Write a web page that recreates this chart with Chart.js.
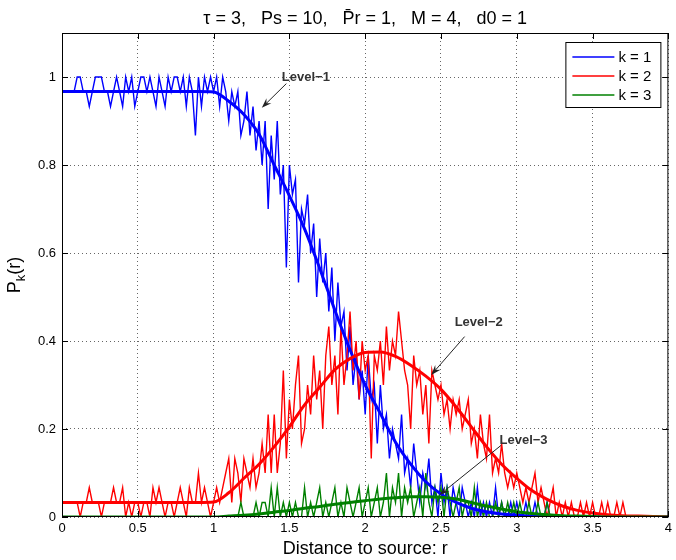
<!DOCTYPE html>
<html><head><meta charset="utf-8">
<script src="https://cdn.jsdelivr.net/npm/chart.js@4.4.0/dist/chart.umd.min.js"></script>
<style>html,body{margin:0;padding:0;background:#fff;}canvas{display:block;}</style>
</head><body>
<canvas id="c" width="676" height="560"></canvas>
<script>
// ---------- text ----------
const chartTitle = 'τ = 3,   Ps = 10,   P\u0304r = 1,   M = 4,   d0 = 1';
const xAxisTitle = 'Distance to source: r';
const yAxisTitleParts = ['P', 'k', '(r)'];
const seriesLabels = ['k = 1', 'k = 2', 'k = 3'];
const seriesColors = ['#0000ff', '#ff0000', '#008000'];

// ---------- ticks ----------
const xTickValues = [0, 0.5, 1, 1.5, 2, 2.5, 3, 3.5, 4];
const xTickLabels = ['0', '0.5', '1', '1.5', '2', '2.5', '3', '3.5', '4'];
const yTickValues = [0, 0.2, 0.4, 0.6, 0.8, 1];
const yTickLabels = ['0', '0.2', '0.4', '0.6', '0.8', '1'];

// ---------- sampling grids (r) ----------
const simStep = 0.02;      // simulation samples r = 0, 0.02, ... 4
const theoryStep = 0.1;    // analytical curve samples r = 0, 0.1, ... 4

// ---------- simulated P_k(r) ----------
const simK1 = [
 .967,.967,.967,.967,.967,1,1,.967,.967,.933,
 .967,1,1,1,.967,.967,.933,.967,1,.967,
 .933,1,.967,1,.933,.967,1,1,.967,1,
 .967,.933,1,.967,.933,1,.967,1,1,.967,
 1,.933,1,.967,.867,1,.933,1,.967,1,
 .967,1,.933,1,.967,.9,.967,.933,.967,.867,
 .9,.967,.867,.933,.833,.9,.8,.9,.7,.867,
 .767,.9,.733,.8,.567,.8,.733,.767,.533,.7,
 .667,.733,.6,.667,.5,.633,.533,.6,.467,.567,
 .4,.533,.433,.467,.333,.433,.3,.367,.267,.333,
 .233,.367,.267,.3,.167,.3,.2,.233,.133,.2,
 .167,.133,.233,.1,.133,.067,.167,.1,.033,.1,
 .067,.133,.033,.067,0,.1,.033,.067,0,.067,
 .033,0,.067,.033,0,.033,0,.067,0,.033,
 0,.033,0,.067,0,.033,0,0,.033,0,
 .033,0,0,.033,0,0,.033,0,0,0,
 .033,0,0,0,0,0,0,0,0,0,
 0,0,0,0,0,0,0,0,0,0,
 0,0,0,0,0,0,0,0,0,0,
 0,0,0,0,0,0,0,0,0,0,
 0
];
const simK2 = [
 .033,.033,.033,.033,.033,.033,0,.033,.033,.067,
 .033,.033,.033,0,.033,.033,.033,.067,.033,.033,
 .067,0,.033,0,.033,.033,0,.033,.033,0,
 .067,.033,.067,.033,0,.033,.033,0,.033,.067,
 .033,0,.067,.033,.033,.1,.033,.067,.033,0,
 .033,.067,.033,.067,.1,.133,.033,.133,.1,.033,
 .133,.1,.067,.133,.067,.1,.167,.1,.233,.1,
 .233,.1,.167,.333,.133,.267,.2,.3,.367,.167,
 .2,.3,.233,.367,.267,.333,.2,.367,.433,.3,
 .367,.233,.433,.3,.367,.467,.333,.4,.267,.4,
 .333,.367,.133,.367,.333,.4,.3,.433,.333,.4,
 .367,.467,.4,.333,.3,.2,.367,.3,.333,.233,
 .3,.167,.333,.3,.267,.3,.233,.267,.2,.267,
 .233,.267,.2,.233,.267,.167,.2,.133,.233,.167,
 .133,.233,.1,.133,.1,.167,.1,.067,.1,.067,
 .1,.067,.033,.067,.033,.067,.1,.033,.067,.033,
 0,.033,.067,0,.033,0,.033,0,.033,0,
 0,.033,0,.033,0,.033,0,0,.033,0,
 .033,0,0,.033,0,.033,0,0,0,0,
 0,0,0,0,0,0,0,0,0,0,
 0
];
const simK3 = [
 0,0,0,0,0,0,0,0,0,0,
 0,0,0,0,0,0,0,0,0,0,
 0,0,0,0,0,0,0,0,0,0,
 0,0,0,0,0,0,0,0,0,0,
 0,0,0,0,0,0,0,0,0,0,
 0,0,0,0,0,0,0,0,0,
 .033,0,0,0,0,.033,0,.033,.033,0,
 .067,0,.067,0,.033,0,.033,0,.033,0,
 0,.067,0,.033,0,.033,.067,0,.033,0,
 .033,.067,0,.033,0,.067,.033,0,.033,.067,
 0,.033,.067,0,.033,.067,0,.033,.1,0,
 .067,.033,.1,0,.067,.033,.067,0,.033,.067,
 0,.1,.033,0,.067,.033,.067,0,.067,.033,
 0,.033,.067,0,.033,.033,0,.067,0,.033,
 0,.033,0,0,.033,0,.033,0,.033,0,
 .033,0,.033,0,0,.033,0,0,.033,0,
 0,.033,0,0,0,0,0,0,0,0,
 0,0,0,0,0,0,0,0,0,0,
 0,0,0,0,0,0,0,0,0,0,
 0,0,0,0,0,0,0,0,0,0,
 0,0
];

// ---------- analytical P_k(r) ----------
const theoryK1 = [
 .967,.967,.967,.967,.967,.967,.967,.967,.967,.967,
 .966,.945,.915,.87,.80,.73,.655,.565,.47,.38,
 .30,.235,.17,.12,.08,.052,.033,.02,.012,.007,
 .004,.002,.001,0,0,0,0,0,0,0,
 0
];
const theoryK2 = [
 .033,.033,.033,.033,.033,.033,.033,.033,.033,.033,
 .034,.055,.088,.12,.16,.205,.255,.295,.335,.36,
 .374,.375,.365,.345,.32,.29,.25,.205,.16,.12,
 .088,.06,.04,.025,.015,.009,.005,.003,.002,.001,
 0
];
const theoryK3 = [
 0,0,0,0,0,0,0,0,0,0,
 0,.002,.004,.007,.011,.015,.02,.024,.029,.033,
 .037,.041,.044,.046,.046,.045,.041,.033,.025,.018,
 .012,.008,.005,.003,.002,.001,0,0,0,0,
 0
];
const baselineR = [0, 4];
const baselineP = [0, 0];

// ---------- annotations (data coordinates) ----------
const annotationTexts = ['Level\u22121', 'Level\u22122', 'Level\u22123'];
const annotationTextAt = [[1.45, 1.0], [2.59, 0.443], [2.886, 0.175]];
const annotationArrowFrom = [[1.48, 0.985], [2.656, 0.41], [2.897, 0.163]];
const annotationArrowTo = [[1.318, 0.93], [2.436, 0.323], [2.49, 0.05]];

// ---------- build ----------
const toPts = (arr, step) => arr.map((v, i) => ({x: +(i * step).toFixed(3), y: v}));
const FONT = "'Liberation Sans', Arial, Helvetica, sans-serif";
const sims = [simK1, simK2, simK3];
const theories = [theoryK1, theoryK2, theoryK3];
const datasets = [];
sims.forEach((s, k) => datasets.push({
  label: seriesLabels[k] + ' (sim)', data: toPts(s, simStep),
  borderColor: seriesColors[k], borderWidth: 1.4, pointRadius: 0, tension: 0
}));
theories.forEach((t, k) => datasets.push({
  label: seriesLabels[k], data: toPts(t, theoryStep),
  borderColor: seriesColors[k], borderWidth: 3, pointRadius: 0, cubicInterpolationMode: 'monotone'
}));
datasets.push({
  label: 'baseline', data: baselineR.map((r, i) => ({x: r, y: baselineP[i]})),
  borderColor: seriesColors[1], borderWidth: 2, pointRadius: 0
});
const N = datasets.length;
datasets.forEach((d, i) => { d.order = N - i; });

const decor = {
  id: 'decor',
  afterDatasetsDraw(chart) {
    const {ctx, chartArea: a, scales: {x, y}} = chart;
    ctx.save();
    // box
    ctx.strokeStyle = '#000'; ctx.lineWidth = 1; ctx.setLineDash([]);
    ctx.strokeRect(a.left + 0.5, a.top + 0.5, a.right - a.left - 1, a.bottom - a.top - 1);
    // inward ticks
    ctx.beginPath();
    xTickValues.forEach(v => {
      const px = Math.round(x.getPixelForValue(v)) + 0.5;
      ctx.moveTo(px, a.bottom); ctx.lineTo(px, a.bottom - 6);
      ctx.moveTo(px, a.top); ctx.lineTo(px, a.top + 6);
    });
    yTickValues.forEach(v => {
      const py = Math.round(y.getPixelForValue(v)) + 0.5;
      ctx.moveTo(a.left, py); ctx.lineTo(a.left + 6, py);
      ctx.moveTo(a.right, py); ctx.lineTo(a.right - 6, py);
    });
    ctx.stroke();
    // annotations
    annotationTexts.forEach((t, i) => {
      const tx = x.getPixelForValue(annotationTextAt[i][0]);
      const ty = y.getPixelForValue(annotationTextAt[i][1]);
      ctx.font = 'bold 13px ' + FONT; ctx.fillStyle = '#333';
      ctx.textAlign = 'left'; ctx.textBaseline = 'middle';
      ctx.fillText(t, tx, ty);
      const x0 = x.getPixelForValue(annotationArrowFrom[i][0]), y0 = y.getPixelForValue(annotationArrowFrom[i][1]);
      const x1 = x.getPixelForValue(annotationArrowTo[i][0]), y1 = y.getPixelForValue(annotationArrowTo[i][1]);
      const ang = Math.atan2(y1 - y0, x1 - x0);
      const L = 10, W = 3.5;
      ctx.strokeStyle = '#222'; ctx.fillStyle = '#222'; ctx.lineWidth = 1;
      ctx.beginPath(); ctx.moveTo(x0, y0);
      ctx.lineTo(x1 - Math.cos(ang) * L * 0.6, y1 - Math.sin(ang) * L * 0.6); ctx.stroke();
      const bx = x1 - Math.cos(ang) * L, by = y1 - Math.sin(ang) * L;
      const nx = -Math.sin(ang), ny = Math.cos(ang);
      const cx = x1 - Math.cos(ang) * L * 0.65, cy = y1 - Math.sin(ang) * L * 0.65;
      ctx.beginPath(); ctx.moveTo(x1, y1);
      ctx.lineTo(bx + nx * W, by + ny * W);
      ctx.lineTo(cx, cy);
      ctx.lineTo(bx - nx * W, by - ny * W);
      ctx.closePath(); ctx.fill();
    });
    // legend
    const lx = a.right - 103, ly = a.top + 9, lw = 95, lh = 65;
    ctx.fillStyle = '#fff'; ctx.fillRect(lx, ly, lw, lh);
    ctx.strokeStyle = '#000'; ctx.lineWidth = 1;
    ctx.strokeRect(lx + 0.5, ly + 0.5, lw, lh);
    seriesLabels.forEach((lab, k) => {
      const yy = ly + 15 + k * 19;
      ctx.strokeStyle = seriesColors[k]; ctx.lineWidth = 1.5;
      ctx.beginPath(); ctx.moveTo(lx + 7, yy); ctx.lineTo(lx + 49, yy); ctx.stroke();
      ctx.fillStyle = '#000'; ctx.font = '15px ' + FONT;
      ctx.textAlign = 'left'; ctx.textBaseline = 'middle';
      ctx.fillText(lab, lx + 53, yy + 1);
    });
    // title
    ctx.fillStyle = '#000'; ctx.textAlign = 'center'; ctx.textBaseline = 'alphabetic';
    ctx.font = '18px ' + FONT;
    ctx.fillText(chartTitle, (a.left + a.right) / 2, 24);
    // x title
    ctx.font = '18px ' + FONT;
    ctx.fillText(xAxisTitle, (a.left + a.right) / 2, 554);
    // y title with subscript
    ctx.save();
    ctx.translate(20, (a.top + a.bottom) / 2);
    ctx.rotate(-Math.PI / 2);
    ctx.font = '18px ' + FONT;
    const w0 = ctx.measureText(yAxisTitleParts[0]).width;
    const w2 = ctx.measureText(yAxisTitleParts[2]).width;
    ctx.font = '13px ' + FONT;
    const w1 = ctx.measureText(yAxisTitleParts[1]).width;
    let sx = -(w0 + w1 + w2) / 2;
    ctx.textAlign = 'left';
    ctx.font = '18px ' + FONT; ctx.fillText(yAxisTitleParts[0], sx, 0); sx += w0;
    ctx.font = '13px ' + FONT; ctx.fillText(yAxisTitleParts[1], sx, 5); sx += w1;
    ctx.font = '18px ' + FONT; ctx.fillText(yAxisTitleParts[2], sx, 0);
    ctx.restore();
    ctx.restore();
  }
};

new Chart(document.getElementById('c'), {
  type: 'line',
  data: {datasets},
  options: {
    responsive: false, animation: false, events: [],
    layout: {padding: {top: 33, right: 7, left: 0, bottom: 0}},
    plugins: {legend: {display: false}, title: {display: false}, tooltip: {enabled: false}},
    scales: {
      x: {
        type: 'linear', min: 0, max: 4,
        afterFit: s => { s.height = 43; },
        afterBuildTicks: s => { s.ticks = xTickValues.map(v => ({value: v})); },
        ticks: {padding: 4, color: '#000', font: {size: 13, family: FONT}, maxRotation: 0,
                callback: (v, i) => xTickLabels[i]},
        grid: {color: 'rgba(0,0,0,0.6)', lineWidth: 1, drawTicks: false},
        border: {display: false, dash: [1, 3]}
      },
      y: {
        type: 'linear', min: 0, max: 1.1,
        afterFit: s => { s.width = 62; },
        afterBuildTicks: s => { s.ticks = yTickValues.map(v => ({value: v})); },
        ticks: {padding: 6, color: '#000', font: {size: 13, family: FONT},
                callback: (v, i) => yTickLabels[i]},
        grid: {color: 'rgba(0,0,0,0.6)', lineWidth: 1, drawTicks: false},
        border: {display: false, dash: [1, 3]}
      }
    }
  },
  plugins: [decor]
});
</script>
</body></html>
